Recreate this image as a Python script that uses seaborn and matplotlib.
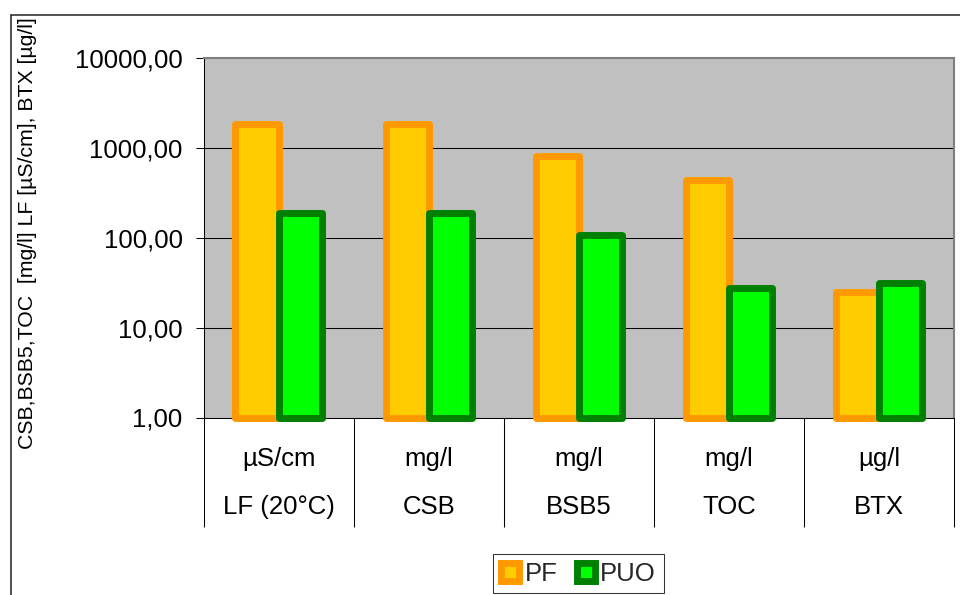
import matplotlib
matplotlib.use("Agg")
import matplotlib.pyplot as plt
from matplotlib.lines import Line2D
from matplotlib.patches import Patch
from matplotlib.ticker import FixedLocator, FuncFormatter, NullLocator
import numpy as np
import pandas as pd
import seaborn as sns

# Messwerte der beiden Proben
parameter = ["LF (20°C)", "CSB", "BSB5", "TOC", "BTX"]
einheiten = ["µS/cm", "mg/l", "mg/l", "mg/l", "µg/l"]
pf_werte = [1840, 1870, 820, 439, 25.1]
puo_werte = [187, 187, 107, 28.0, 31.1]
proben = ["PF", "PUO"]
y_ticks = [1, 10, 100, 1000, 10000]

fuellung = {"PF": "#FFCC00", "PUO": "#00FF00"}
rand = {"PF": "#FF9900", "PUO": "#008000"}

df = pd.DataFrame({
    "Parameter": parameter * 2,
    "Wert": pf_werte + puo_werte,
    "Probe": ["PF"] * len(parameter) + ["PUO"] * len(parameter),
})

sns.set_style("white")
plt.rcParams["font.family"] = ["Liberation Sans", "DejaVu Sans"]
FS = 18.5

fig = plt.figure(figsize=(9.6, 5.95), dpi=100)
ax = fig.add_axes([203.5 / 960, 1 - 417.5 / 595, (954 - 203.5) / 960, (417.5 - 58.3) / 595])
ax.set_facecolor("#C0C0C0")

sns.barplot(data=df, x="Parameter", y="Wert", hue="Probe", order=parameter,
            hue_order=proben, palette=fuellung, width=0.574, dodge=True,
            errorbar=None, saturation=1, legend=False, ax=ax)

ax.set_yscale("log")
ax.set_ylim(1, 10000)
ax.set_xlim(-0.5, len(parameter) - 0.5)

# Balken beginnen bei 1 (Basis der Log-Achse), breiter farbiger Rand
for probe, container in zip(proben, ax.containers):
    for bar in container:
        top = bar.get_y() + bar.get_height()
        bar.set_y(1)
        bar.set_height(top - 1)
        bar.set_edgecolor(rand[probe])
        bar.set_facecolor(fuellung[probe])
        bar.set_linewidth(5)
        bar.set_joinstyle("round")
        bar.set_clip_on(False)
        bar.set_zorder(3)

# Gitterlinien
ax.yaxis.set_major_locator(FixedLocator(y_ticks))
ax.yaxis.set_minor_locator(NullLocator())
ax.yaxis.set_major_formatter(FuncFormatter(lambda v, p: f"{v:.2f}".replace(".", ",")))
ax.grid(axis="y", color="black", linewidth=0.75, zorder=1)
ax.grid(axis="x", visible=False)
ax.set_axisbelow(True)
ax.tick_params(axis="y", which="major", direction="out", length=6, width=0.75,
               color="black", pad=9, labelsize=FS, labelcolor="black", left=True)

# Kategorieachse: Trennstriche zwischen den Gruppen, Beschriftung mittig
ax.xaxis.set_major_locator(FixedLocator(np.arange(-0.5, len(parameter), 1.0)))
ax.xaxis.set_major_formatter(FuncFormatter(lambda v, p: ""))
ax.xaxis.set_minor_locator(FixedLocator(np.arange(len(parameter))))
ax.set_xticklabels([f"{e}\n{p}" for e, p in zip(einheiten, parameter)], minor=True)
ax.tick_params(axis="x", which="major", direction="out", length=78.5, width=0.75,
               color="black", bottom=True)
ax.tick_params(axis="x", which="minor", length=0, pad=21, labelsize=FS,
               labelcolor="black", bottom=True)
for lbl in ax.get_xticklabels(minor=True):
    lbl.set_linespacing(2.3)
ax.set_xlabel("")

for side in ["left", "bottom"]:
    ax.spines[side].set_color("black")
    ax.spines[side].set_linewidth(0.75)
for side in ["top", "right"]:
    ax.spines[side].set_color("#808080")
    ax.spines[side].set_linewidth(1.5)

ax.set_ylabel("CSB,BSB5,TOC  [mg/l] LF [µS/cm], BTX [µg/l]", fontsize=15.3, color="black")
ax.yaxis.label.set_va("center")
ax.yaxis.label.set_ha("center")
ax.yaxis.set_label_coords((27 - 203.5) / 750.5, (417.5 - 233) / 359.2)

# Legende unter dem Diagramm
handles = [Patch(facecolor=fuellung[p], edgecolor=rand[p], linewidth=5, label=p)
           for p in proben]
leg = fig.legend(handles=handles, loc="upper center", ncol=2,
                 bbox_to_anchor=(578.5 / 960, 1 - 554 / 595), fontsize=FS,
                 frameon=True, fancybox=False, shadow=False, borderpad=0.3,
                 handlelength=0.72, handleheight=0.68, handletextpad=0.2,
                 columnspacing=0.75, borderaxespad=0)
leg.get_frame().set_edgecolor("black")
leg.get_frame().set_linewidth(0.75)

# Rahmen des Diagrammbereichs
fx = 10.5 / 960
fy = 1 - 15 / 595
fig.add_artist(Line2D([fx, fx], [0, fy], transform=fig.transFigure, color="#222222", linewidth=1.1))
fig.add_artist(Line2D([fx, 1], [fy, fy], transform=fig.transFigure, color="#222222", linewidth=1.1))

fig.savefig("out.png", dpi=100, facecolor="white")
